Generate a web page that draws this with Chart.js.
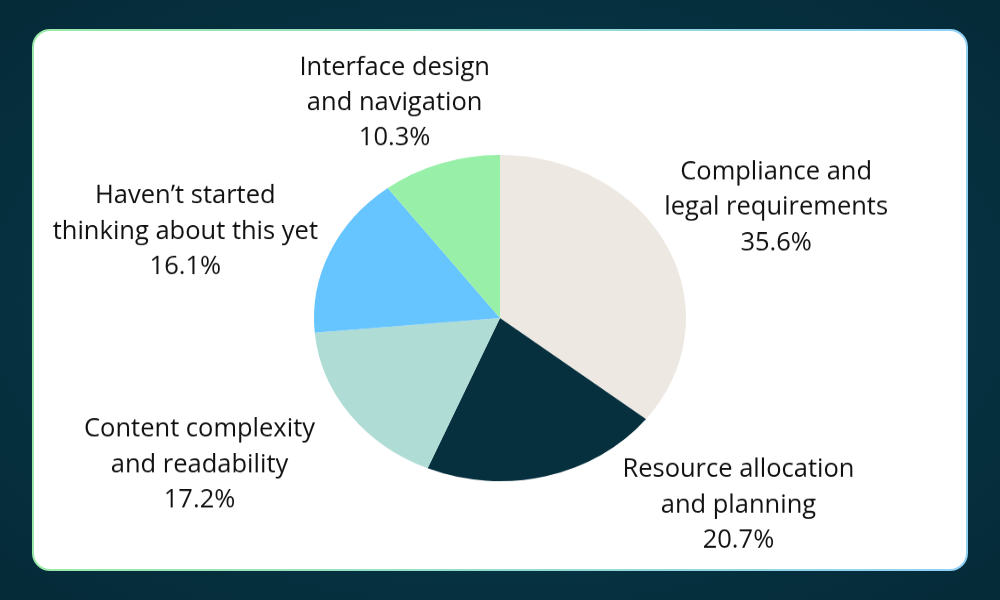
<!DOCTYPE html>
<html>
<head>
<meta charset="utf-8">
<script src="https://cdn.jsdelivr.net/npm/chart.js@4"></script>
<style>
  html, body { margin: 0; padding: 0; }
  body {
    width: 1000px; height: 600px; position: relative; overflow: hidden;
    background: radial-gradient(ellipse at center, #0d4150 0%, #06303f 70%, #052a38 100%);
  }
  .card {
    position: absolute; left: 32px; top: 29px; width: 932px; height: 538px;
    background: #fff; border-radius: 18px; border: 2px solid transparent;
    background: linear-gradient(#fff, #fff) padding-box,
                linear-gradient(90deg, #9be9a8, #8fd0f5) border-box;
  }
  canvas {
    position: absolute; left: 0; top: 0;
    transform-origin: 500px 318px; transform: scaleY(0.877);
  }
</style>
</head>
<body>
<div class="card"></div>
<canvas id="chart" width="1000" height="600"></canvas>
<script>
// dados do gráfico
const categorias = [
  ['Compliance and', 'legal requirements'],
  ['Resource allocation', 'and planning'],
  ['Content complexity', 'and readability'],
  ['Haven\u2019t started', 'thinking about this yet'],
  ['Interface design', 'and navigation']
];
const valores = [35.6, 20.7, 17.2, 16.1, 10.3];
const cores = ['#ede8e2', '#07303f', '#b0dcd6', '#66c5ff', '#98f0a8'];

const ACHATAR = 0.877; // a pizza da referência é levemente achatada

// rótulos fora da pizza, texto desfaz o achatamento do canvas
const rotulosPlugin = {
  id: 'rotulos',
  afterDatasetsDraw(chart, args, opts) {
    const ctx = chart.ctx;
    const arcs = chart.getDatasetMeta(0).data;
    ctx.save();
    ctx.font = '25.5px "Open Sans"';
    ctx.fillStyle = '#111';
    ctx.textAlign = 'center';
    ctx.textBaseline = 'middle';
    arcs.forEach((arc, i) => {
      const mid = (arc.startAngle + arc.endAngle) / 2;
      const f = opts.fatores[i];
      const x = arc.x + Math.cos(mid) * arc.outerRadius * f[0];
      const y = arc.y + (Math.sin(mid) * arc.outerRadius * f[1]) / ACHATAR;
      const linhas = [...chart.data.labels[i], valores[i].toFixed(1) + '%'];
      ctx.save();
      ctx.translate(x, y);
      ctx.scale(1, 1 / ACHATAR);
      linhas.forEach((t, k) => {
        ctx.fillText(t, 0, (k - (linhas.length - 1) / 2) * 35.5);
      });
      ctx.restore();
    });
    ctx.restore();
  }
};

new Chart(document.getElementById('chart'), {
  type: 'pie',
  data: {
    labels: categorias,
    datasets: [{ data: valores, backgroundColor: cores, borderWidth: 0 }]
  },
  options: {
    responsive: false,
    animation: false,
    layout: { padding: { top: 132, bottom: 96, left: 314, right: 314 } },
    plugins: {
      legend: { display: false },
      tooltip: { enabled: false },
      rotulos: { fatores: [[1.65, 1.36], [5.15, 1.04], [2.0, 1.34], [1.85, 1.15], [1.78, 1.22]] }
    }
  },
  plugins: [rotulosPlugin]
});
</script>
</body>
</html>
